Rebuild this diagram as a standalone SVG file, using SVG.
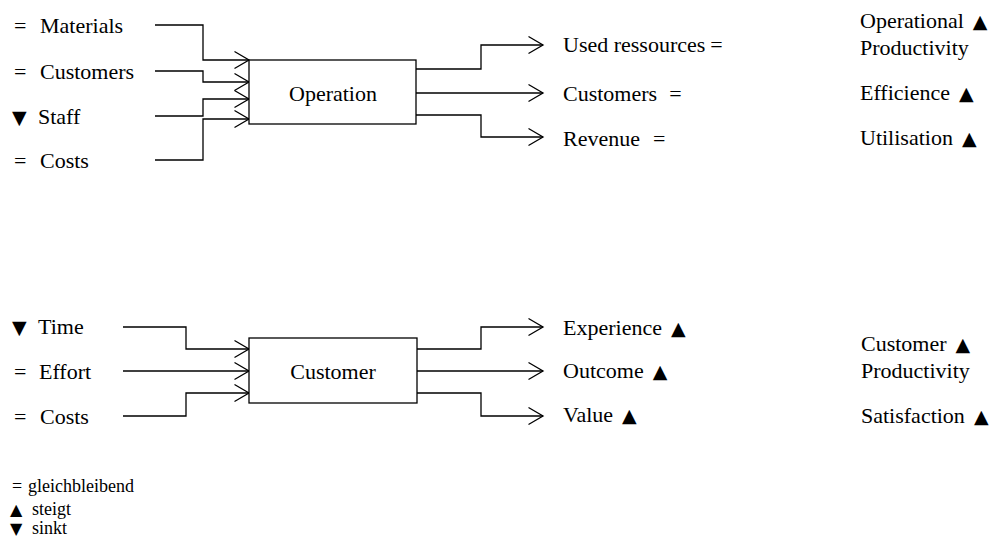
<svg xmlns="http://www.w3.org/2000/svg" width="992" height="538" viewBox="0 0 992 538">
<style>
text{font-family:"Liberation Serif","Times New Roman",serif;font-size:22px;fill:#000}
.sm{font-size:18px}
.tri{font-family:"DejaVu Sans",sans-serif;font-size:19px}
.tri-s{font-family:"DejaVu Sans",sans-serif;font-size:16px}
.box{fill:#fff;stroke:#000;stroke-width:1.3}
.c{fill:none;stroke:#000;stroke-width:1.3}
</style>
<defs>
<marker id="arr" markerUnits="userSpaceOnUse" markerWidth="17" markerHeight="20" viewBox="0 0 17 20" refX="15.5" refY="10" orient="auto">
<path d="M1,1.5 L15.5,10 L1,18.5" fill="none" stroke="#000" stroke-width="1.3"/>
</marker>
</defs>
<rect width="992" height="538" fill="#fff"/>
<g id="connectors">
<path class="c" d="M155,25 H203 V60 H249" marker-end="url(#arr)"/>
<path class="c" d="M155,71 H203 V82 H249" marker-end="url(#arr)"/>
<path class="c" d="M155,116 H203 V99 H249" marker-end="url(#arr)"/>
<path class="c" d="M155,160 H203 V119 H249" marker-end="url(#arr)"/>
<path class="c" d="M416,69 H481 V45 H543" marker-end="url(#arr)"/>
<path class="c" d="M416,93 H543" marker-end="url(#arr)"/>
<path class="c" d="M416,115 H481 V137 H543" marker-end="url(#arr)"/>
<path class="c" d="M123,327 H186 V349 H249" marker-end="url(#arr)"/>
<path class="c" d="M123,371 H249" marker-end="url(#arr)"/>
<path class="c" d="M123,416 H186 V393 H249" marker-end="url(#arr)"/>
<path class="c" d="M417,349 H481 V327 H543" marker-end="url(#arr)"/>
<path class="c" d="M417,371 H543" marker-end="url(#arr)"/>
<path class="c" d="M417,393 H481 V416 H543" marker-end="url(#arr)"/>
</g>
<g id="operation">
<rect class="box" x="249" y="60" width="167" height="64"/>
<text x="333" y="101" text-anchor="middle">Operation</text>
</g>
<g id="customer">
<rect class="box" x="249" y="338" width="168" height="65"/>
<text x="333" y="379" text-anchor="middle">Customer</text>
</g>
<g id="inputs-top">
<text x="14" y="33">=</text><text x="40" y="33">Materials</text>
<text x="14" y="79">=</text><text x="40" y="79">Customers</text>
<text class="tri" x="12" y="124">▼</text><text x="38" y="124">Staff</text>
<text x="14" y="168">=</text><text x="40" y="168">Costs</text>
</g>
<g id="outputs-top">
<text x="563" y="52">Used ressources<tspan dx="5">=</tspan></text>
<text x="563" y="101">Customers<tspan dx="12">=</tspan></text>
<text x="563" y="146">Revenue<tspan dx="13">=</tspan></text>
</g>
<g id="kpi-top">
<text x="860" y="28">Operational<tspan class="tri" dx="9">▲</tspan></text>
<text x="860" y="55">Productivity</text>
<text x="860" y="100">Efficience<tspan class="tri" dx="9">▲</tspan></text>
<text x="860" y="145">Utilisation<tspan class="tri" dx="9">▲</tspan></text>
</g>
<g id="inputs-bottom">
<text class="tri" x="12" y="334">▼</text><text x="38" y="334">Time</text>
<text x="14" y="379">=</text><text x="39" y="379">Effort</text>
<text x="14" y="424">=</text><text x="40" y="424">Costs</text>
</g>
<g id="outputs-bottom">
<text x="563" y="335">Experience<tspan class="tri" dx="9">▲</tspan></text>
<text x="563" y="378">Outcome<tspan class="tri" dx="9">▲</tspan></text>
<text x="563" y="422">Value<tspan class="tri" dx="9">▲</tspan></text>
</g>
<g id="kpi-bottom">
<text x="861" y="351">Customer<tspan class="tri" dx="9">▲</tspan></text>
<text x="861" y="378">Productivity</text>
<text x="861" y="423">Satisfaction<tspan class="tri" dx="9">▲</tspan></text>
</g>
<g id="legend">
<text class="sm" x="12" y="492">=</text><text class="sm" x="28" y="492">gleichbleibend</text>
<text class="tri-s" x="10" y="515">▲</text><text class="sm" x="32" y="515">steigt</text>
<text class="tri-s" x="10" y="534">▼</text><text class="sm" x="32" y="534">sinkt</text>
</g>
</svg>
